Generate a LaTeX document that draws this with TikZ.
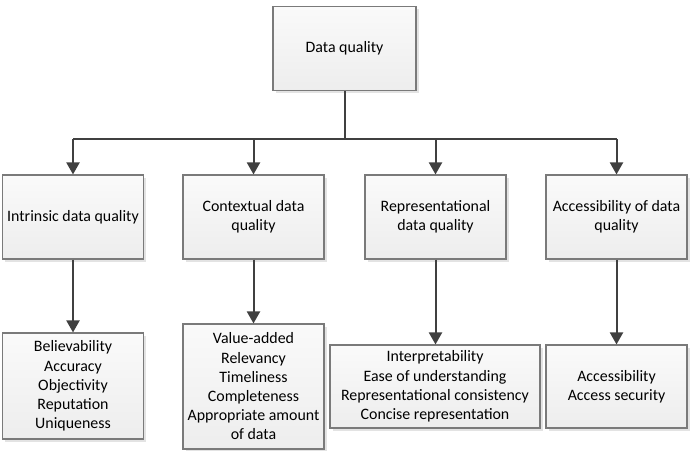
\documentclass[tikz,border=0pt]{standalone}
\usepackage{fontspec}
\setmainfont{Carlito}
\usetikzlibrary{arrows.meta,shadows}
\definecolor{linec}{HTML}{404040}
\definecolor{boxborder}{HTML}{7A7A7A}
\tikzset{
  qbox/.style={draw=boxborder, line width=1.1pt, top color=black!2, bottom color=black!7,
    drop shadow={shadow xshift=2.5pt, shadow yshift=-2.5pt, fill=black!18, opacity=0.6},
    align=center, inner sep=2pt, font=\fontsize{15.9}{19.2}\selectfont},
  conn/.style={draw=linec, line width=2pt},
  arr/.style={conn, -{Triangle[width=13pt,length=12pt]}}
}
\begin{document}
\begin{tikzpicture}[x=1pt,y=-1pt]
\useasboundingbox (0,0) rectangle (693,450);
\node[qbox, minimum width=143pt, minimum height=84pt] (top) at (344.5,48.5) {Data quality};

\node[qbox, minimum width=141pt, minimum height=84pt] (a) at (73,217) {Intrinsic data quality};
\node[qbox, minimum width=141pt, minimum height=84pt] (b) at (253.5,217) {Contextual data\\quality};
\node[qbox, minimum width=141pt, minimum height=84pt] (c) at (435.5,217) {Representational\\data quality};
\node[qbox, minimum width=141pt, minimum height=84pt] (d) at (616.5,217) {Accessibility of data\\quality};

\node[qbox, minimum width=141pt, minimum height=106pt] (a2) at (73,386) {Believability\\Accuracy\\Objectivity\\Reputation\\Uniqueness};
\node[qbox, minimum width=141pt, minimum height=125pt] (b2) at (253.5,386.5) {Value-added\\Relevancy\\Timeliness\\Completeness\\Appropriate amount\\of data};
\node[qbox, minimum width=210pt, minimum height=83pt] (c2) at (435,386.5) {Interpretability\\Ease of understanding\\Representational consistency\\Concise representation};
\node[qbox, minimum width=141pt, minimum height=83pt] (d2) at (616.5,386.5) {Accessibility\\Access security};

\coordinate (bus) at (344.5,139);
\coordinate (busL) at (73,139);
\coordinate (busR) at (616.5,139);
\draw[conn] (top.south) -- (bus);
\draw[conn] (busL) -- (busR);
\draw[arr] (busL) -- (a.north);
\draw[arr] (b.north |- bus) -- (b.north);
\draw[arr] (c.north |- bus) -- (c.north);
\draw[arr] (busR) -- (d.north);

\draw[arr] (a.south) -- (a2.north);
\draw[arr] (b.south) -- (b2.north);
\draw[arr] (c.south) -- (c.south |- c2.north);
\draw[arr] (d.south) -- (d2.north);
\end{tikzpicture}
\end{document}
